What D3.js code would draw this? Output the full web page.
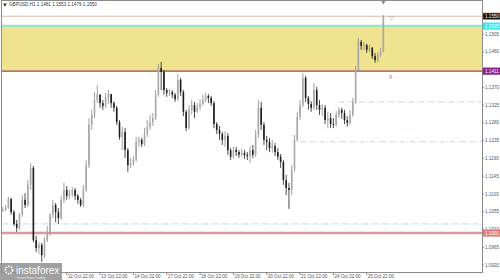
<!DOCTYPE html>
<html>
<head>
<meta charset="utf-8">
<script src="https://cdn.jsdelivr.net/npm/d3@7"></script>
<style>
  body { margin: 0; background: #fff; }
  svg { display: block; font-family: "Liberation Sans", Arial, sans-serif; }
</style>
</head>
<body>
<script>
// GBPUSD 2-hour candles, index 0 = 12 Oct 22:00
const firstIndex = -23;
const firstOpen = 1.1057;
const closes = [
  1.1059, 1.1064, 1.1087, 1.1054, 1.1024, 1.1014, 1.1047, 1.1085, 1.1072, 1.1123,
  1.1166, 1.0983, 1.0963, 1.0971, 1.0945, 1.0983, 1.1004, 1.1047, 1.1072, 1.1054,
  1.1039, 1.1085, 1.1110, 1.1095, 1.1102, 1.1110, 1.1095, 1.1085, 1.1072, 1.1110,
  1.1173, 1.1275, 1.1300, 1.1338, 1.1351, 1.1330, 1.1323, 1.1343, 1.1353, 1.1330,
  1.1318, 1.1282, 1.1244, 1.1257, 1.1211, 1.1173, 1.1178, 1.1186, 1.1232, 1.1237,
  1.1226, 1.1252, 1.1270, 1.1282, 1.1292, 1.1351, 1.1419, 1.1409, 1.1363, 1.1356,
  1.1358, 1.1351, 1.1340, 1.1389, 1.1358, 1.1308, 1.1267, 1.1313, 1.1325, 1.1308,
  1.1320, 1.1328, 1.1338, 1.1348, 1.1343, 1.1330, 1.1277, 1.1262, 1.1252, 1.1237,
  1.1247, 1.1211, 1.1194, 1.1211, 1.1206, 1.1199, 1.1204, 1.1199, 1.1196, 1.1211,
  1.1199, 1.1249, 1.1318, 1.1275, 1.1237, 1.1232, 1.1216, 1.1221, 1.1206, 1.1194,
  1.1181, 1.1135, 1.1115, 1.1110, 1.1161, 1.1237, 1.1295, 1.1325, 1.1394, 1.1343,
  1.1328, 1.1318, 1.1363, 1.1325, 1.1313, 1.1318, 1.1287, 1.1292, 1.1277, 1.1275,
  1.1300, 1.1313, 1.1305, 1.1287, 1.1280, 1.1300, 1.1333, 1.1414, 1.1485, 1.1475,
  1.1477, 1.1465, 1.1470, 1.1449, 1.1439, 1.1452, 1.1459, 1.1550
];
const highs = [
  1.1067, 1.1072, 1.1092, 1.1090, 1.1059, 1.1034, 1.1052, 1.1097, 1.1102, 1.1135,
  1.1178, 1.1171, 1.0994, 1.0978, 1.0976, 1.0991, 1.1019, 1.1052, 1.1085, 1.1077,
  1.1064, 1.1095, 1.1128, 1.1120, 1.1110, 1.1118, 1.1115, 1.1100, 1.1090, 1.1123,
  1.1186, 1.1292, 1.1313, 1.1358, 1.1376, 1.1353, 1.1338, 1.1356, 1.1363, 1.1351,
  1.1335, 1.1323, 1.1287, 1.1270, 1.1267, 1.1216, 1.1191, 1.1196, 1.1244, 1.1244,
  1.1242, 1.1267, 1.1287, 1.1300, 1.1305, 1.1363, 1.1429, 1.1434, 1.1414, 1.1368,
  1.1366, 1.1363, 1.1356, 1.1404, 1.1394, 1.1363, 1.1313, 1.1325, 1.1338, 1.1333,
  1.1330, 1.1340, 1.1351, 1.1356, 1.1353, 1.1348, 1.1335, 1.1282, 1.1272, 1.1257,
  1.1259, 1.1254, 1.1216, 1.1219, 1.1219, 1.1211, 1.1214, 1.1211, 1.1206, 1.1221,
  1.1224, 1.1262, 1.1338, 1.1333, 1.1282, 1.1247, 1.1242, 1.1237, 1.1229, 1.1216,
  1.1201, 1.1186, 1.1148, 1.1128, 1.1173, 1.1249, 1.1308, 1.1338, 1.1406, 1.1399,
  1.1348, 1.1335, 1.1381, 1.1371, 1.1338, 1.1328, 1.1325, 1.1308, 1.1305, 1.1292,
  1.1310, 1.1320, 1.1318, 1.1313, 1.1297, 1.1313, 1.1343, 1.1424, 1.1495, 1.1490,
  1.1485, 1.1480, 1.1477, 1.1472, 1.1457, 1.1459, 1.1470, 1.1553
];
const lows = [
  1.1054, 1.1057, 1.1062, 1.1047, 1.1019, 1.1004, 1.1009, 1.1042, 1.1064, 1.1067,
  1.1110, 1.0978, 1.0953, 1.0948, 1.0928, 1.0938, 1.0978, 1.0994, 1.1039, 1.1029,
  1.1024, 1.1034, 1.1077, 1.1085, 1.1087, 1.1092, 1.1085, 1.1075, 1.1067, 1.1067,
  1.1105, 1.1166, 1.1262, 1.1292, 1.1330, 1.1318, 1.1313, 1.1318, 1.1328, 1.1318,
  1.1308, 1.1275, 1.1237, 1.1211, 1.1191, 1.1156, 1.1166, 1.1171, 1.1181, 1.1219,
  1.1219, 1.1221, 1.1244, 1.1262, 1.1272, 1.1287, 1.1346, 1.1363, 1.1351, 1.1346,
  1.1348, 1.1343, 1.1333, 1.1335, 1.1348, 1.1297, 1.1259, 1.1262, 1.1302, 1.1292,
  1.1305, 1.1313, 1.1323, 1.1333, 1.1330, 1.1323, 1.1267, 1.1252, 1.1237, 1.1224,
  1.1219, 1.1199, 1.1186, 1.1189, 1.1196, 1.1191, 1.1194, 1.1189, 1.1186, 1.1178,
  1.1191, 1.1194, 1.1242, 1.1262, 1.1224, 1.1211, 1.1206, 1.1204, 1.1196, 1.1186,
  1.1166, 1.1123, 1.1097, 1.1062, 1.1097, 1.1156, 1.1232, 1.1287, 1.1320, 1.1333,
  1.1313, 1.1308, 1.1313, 1.1313, 1.1300, 1.1297, 1.1277, 1.1267, 1.1267, 1.1267,
  1.1270, 1.1292, 1.1290, 1.1277, 1.1270, 1.1275, 1.1295, 1.1328, 1.1409, 1.1465,
  1.1465, 1.1457, 1.1459, 1.1442, 1.1432, 1.1434, 1.1447, 1.1459
];

const dayLabels = ["12 Oct 22:00", "13 Oct 22:00", "14 Oct 22:00", "17 Oct 22:00", "18 Oct 22:00",
  "19 Oct 22:00", "20 Oct 22:00", "21 Oct 22:00", "24 Oct 22:00", "25 Oct 22:00"];
const priceTicks = [1.1505, 1.1460, 1.1415, 1.1370, 1.1325, 1.1280, 1.1235, 1.1190,
  1.1145, 1.1100, 1.1055, 1.1010, 1.0965, 1.0920];

// zone and levels
const zoneTop = 1.1522, zoneBottom = 1.1411;
const bidLevel = 1.1550, cyanLevel = 1.1525, supportLevel = 1.1001;
const dashLevels = [1.1333, 1.1232, 1.1024];
const dashStarts = [98, 84, -23];   // candle index where each dashed level starts

const width = 500, height = 280;
const plot = { left: 2, right: 482, top: 1, bottom: 272 };

const svg = d3.select("body").append("svg")
    .attr("width", width)
    .attr("height", height);

const x = d3.scaleLinear().domain([-23.3, 149.5]).range([plot.left, plot.right]);
const y = d3.scaleLinear().domain([1.0920, 1.1505]).range([265, 34]);

svg.append("clipPath").attr("id", "clip")
    .append("rect")
    .attr("x", plot.left).attr("y", plot.top)
    .attr("width", plot.right - plot.left).attr("height", plot.bottom - plot.top);

const g = svg.append("g").attr("clip-path", "url(#clip)");

// yellow zone
g.append("rect")
    .attr("x", plot.left)
    .attr("y", y(zoneTop))
    .attr("width", plot.right - plot.left)
    .attr("height", y(zoneBottom) - y(zoneTop))
    .attr("fill", "#efe38f");

const hline = (v, color, w, dash, x0) => g.append("line")
    .attr("x1", x0 == undefined ? plot.left : x0).attr("x2", plot.right)
    .attr("y1", y(v)).attr("y2", y(v))
    .attr("stroke", color).attr("stroke-width", w)
    .attr("stroke-dasharray", dash || null);

hline(bidLevel, "#d9b9aa", 1);
hline(cyanLevel, "#9fe2c2", 2.5);
hline(zoneBottom, "#9c4458", 1.2);
hline(supportLevel, "#d99a9a", 2.5);
dashLevels.forEach((v, k) => hline(v, "#a9d2df", 0.8, "5,2,1,2", x(dashStarts[k])));

// candles
const candles = closes.map((c, k) => ({
    i: firstIndex + k,
    open: k == 0 ? firstOpen : closes[k - 1],
    close: c,
    high: highs[k],
    low: lows[k]
}));

const bodyW = 1.6;

g.selectAll("line.wick")
    .data(candles)
    .enter().append("line")
    .attr("class", "wick")
    .attr("x1", d => x(d.i)).attr("x2", d => x(d.i))
    .attr("y1", d => y(d.high)).attr("y2", d => y(d.low))
    .attr("stroke", d => d.close >= d.open ? "#8a8a8a" : "#1e1e1e")
    .attr("stroke-width", 0.8);

g.selectAll("rect.body")
    .data(candles)
    .enter().append("rect")
    .attr("class", "body")
    .attr("x", d => x(d.i) - bodyW / 2)
    .attr("width", bodyW)
    .attr("y", d => y(Math.max(d.open, d.close)))
    .attr("height", d => Math.max(0.8, Math.abs(y(d.open) - y(d.close))))
    .attr("fill", d => d.close >= d.open ? "#a8a8a8" : "#1e1e1e");

// small chart marks
g.append("text").attr("x", x(116)).attr("y", y(bidLevel) + 4)
    .attr("font-size", 6).attr("fill", "#999").text("▽");
g.append("text").attr("x", x(116)).attr("y", y(1.1391))
    .attr("font-size", 6).attr("fill", "#c86a6a").text("δ");
g.append("path")
    .attr("d", d3.symbol(d3.symbolTriangle, 8)())
    .attr("transform", "translate(" + x(114) + ",2) rotate(180)")
    .attr("fill", "#888");

// frame
svg.append("rect")
    .attr("x", plot.left - 0.5).attr("y", plot.top - 0.5)
    .attr("width", plot.right - plot.left + 1).attr("height", plot.bottom - plot.top + 1)
    .attr("fill", "none").attr("stroke", "#8c8c8c").attr("stroke-width", 1);

// price boxes on axis
const boxes = [
    { v: bidLevel, fill: "#111", stroke: "#b46a4a" },
    { v: cyanLevel, fill: "#3fe6ee", stroke: "#3fe6ee" },
    { v: zoneBottom, fill: "#84238a", stroke: "#84238a" },
    { v: supportLevel, fill: "#dc7d80", stroke: "#dc7d80" }
];

// price axis (labels hidden under a price box are left out, as on the terminal)
const shownTicks = priceTicks.filter(t => boxes.every(b => Math.abs(y(t) - y(b.v)) > 3));
const yAxis = svg.append("g");
yAxis.selectAll("line")
    .data(priceTicks)
    .enter().append("line")
    .attr("x1", plot.right).attr("x2", plot.right + 2)
    .attr("y1", d => y(d)).attr("y2", d => y(d))
    .attr("stroke", "#888");
yAxis.selectAll("text")
    .data(shownTicks)
    .enter().append("text")
    .attr("x", plot.right + 3)
    .attr("y", d => y(d))
    .attr("dy", "0.35em")
    .attr("font-size", 4.6)
    .attr("fill", "#555")
    .text(d => d.toFixed(4));

const box = svg.selectAll("g.box").data(boxes).enter().append("g").attr("class", "box");
box.append("rect")
    .attr("x", plot.right + 1).attr("y", d => y(d.v) - 3.2)
    .attr("width", 17).attr("height", 6.4)
    .attr("fill", d => d.fill).attr("stroke", d => d.stroke).attr("stroke-width", 0.6);
box.append("text")
    .attr("x", plot.right + 3).attr("y", d => y(d.v))
    .attr("dy", "0.35em")
    .attr("font-size", 4.6).attr("fill", "#fff")
    .text(d => d.v.toFixed(4));

// time axis
const xAxis = svg.append("g");
xAxis.selectAll("line")
    .data(dayLabels)
    .enter().append("line")
    .attr("x1", (d, k) => x(12 * k)).attr("x2", (d, k) => x(12 * k))
    .attr("y1", plot.bottom).attr("y2", plot.bottom + 3)
    .attr("stroke", "#888");
xAxis.selectAll("text")
    .data(dayLabels)
    .enter().append("text")
    .attr("x", (d, k) => x(12 * k) + 1)
    .attr("y", 278)
    .attr("font-size", 4.6)
    .attr("fill", "#555")
    .text(d => d);

// title
svg.append("path")
    .attr("d", d3.symbol(d3.symbolTriangle, 6)())
    .attr("transform", "translate(5,4.5) rotate(180)")
    .attr("fill", "#333");
svg.append("text")
    .attr("x", 9).attr("y", 6)
    .attr("font-size", 4.6).attr("fill", "#333")
    .text("GBPUSD,H1  1.1481  1.1553  1.1479  1.1550");

// logo
const logo = svg.append("g");
logo.append("rect")
    .attr("x", 0).attr("y", 263).attr("width", 62).attr("height", 17)
    .attr("fill", "#8f8f8f").attr("opacity", 0.85);
logo.append("circle")
    .attr("cx", 9).attr("cy", 270).attr("r", 3.6)
    .attr("fill", "none").attr("stroke", "#fff").attr("stroke-width", 1.6)
    .attr("stroke-dasharray", "1.6,1");
logo.append("text")
    .attr("x", 16).attr("y", 274)
    .attr("font-size", 10).attr("fill", "#fff")
    .text("instaforex");
logo.append("text")
    .attr("x", 17).attr("y", 279)
    .attr("font-size", 3).attr("fill", "#eee")
    .text("Instant Forex Trading");
</script>
</body>
</html>
